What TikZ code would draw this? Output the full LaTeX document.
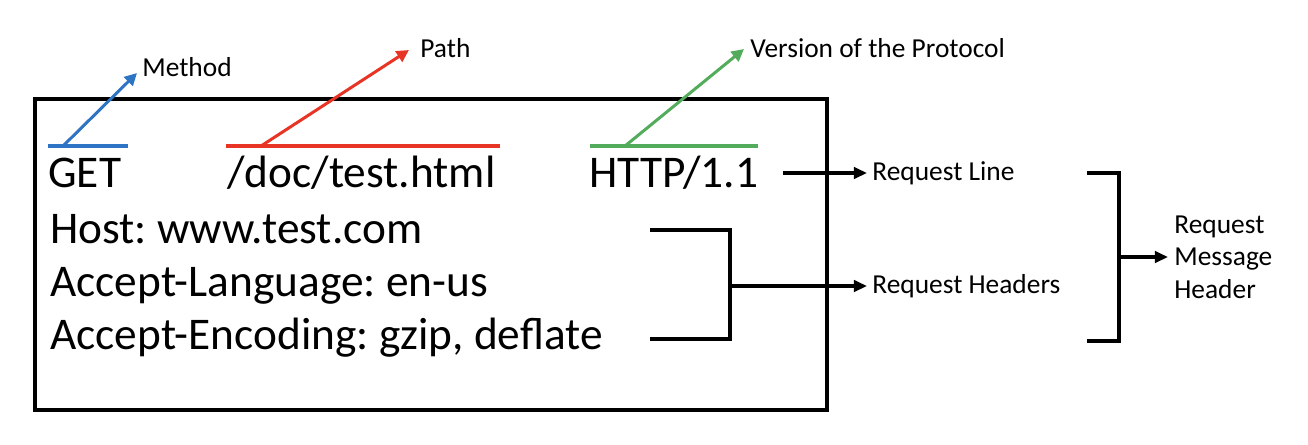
\documentclass[tikz,border=0pt]{standalone}
\usepackage{fontspec}
\setmainfont{Carlito}
\frenchspacing
\usetikzlibrary{arrows.meta}
\definecolor{methodblue}{RGB}{46,116,196}
\definecolor{pathred}{RGB}{232,52,36}
\definecolor{versiongreen}{RGB}{82,172,92}
\tikzset{
  big/.style={anchor=base west, inner sep=0pt, font=\fontsize{25.8}{30}\selectfont},
  small/.style={anchor=base west, inner sep=0pt, font=\fontsize{15.6}{18.5}\selectfont},
  tagline/.style={line width=2.3pt},
  tagarrow/.style={line width=1.7pt, -{Triangle[length=7pt,width=7pt]}},
  bracket/.style={line width=2.1pt},
  outarrow/.style={line width=1.9pt, -{Triangle[length=7.5pt,width=6.5pt]}}
}
\begin{document}
\begin{tikzpicture}[x=0.02cm,y=-0.02cm]
\useasboundingbox (0,0) rectangle (1308,444);
\draw[line width=2.6pt] (35,99) rectangle (827,410);
\node[big] (get) at (48,187) {GET};
\node[big] (path) at (227,187) {/doc/test.html};
\node[big] (version) at (589,187) {HTTP/1.1};
\node[big] (host) at (50,243) {Host: www.test.com};
\node[big] (lang) at (50,296) {Accept-Language: en-us};
\node[big] (enc) at (50,349) {Accept-Encoding: gzip, deflate};
\node[small] (method) at (142,76) {Method};
\node[small] (pathlbl) at (420,57) {Path};
\node[small] (verlbl) at (750,57) {Version of the Protocol};
\node[small] (reqline) at (872,180) {Request Line};
\node[small] (reqhead) at (872,293) {Request Headers};
\node[small, anchor=west, align=left] (msghead) at (1174,257) {Request\\Message\\Header};
\coordinate (getl) at (48,146);
\coordinate (getr) at (128,146);
\coordinate (gets) at (63,146);
\coordinate (gett) at (137,73);
\coordinate (pathl) at (226,146);
\coordinate (pathr) at (500,146);
\coordinate (paths) at (261,146);
\coordinate (patht) at (409,50);
\coordinate (verl) at (590,146);
\coordinate (verr) at (758,146);
\coordinate (vers) at (625,146);
\coordinate (vert) at (744,49);
\draw[tagline, methodblue] (getl) -- (getr);
\draw[tagarrow, methodblue] (gets) -- (gett);
\draw[tagline, pathred] (pathl) -- (pathr);
\draw[tagarrow, pathred] (paths) -- (patht);
\draw[tagline, versiongreen] (verl) -- (verr);
\draw[tagarrow, versiongreen] (vers) -- (vert);
\coordinate (rls) at (783,173);
\coordinate (rlt) at (867,173);
\draw[outarrow] (rls) -- (rlt);
\coordinate (hbtop) at (650,230);
\coordinate (hbbot) at (650,339);
\coordinate (hbmid) at (730,286);
\coordinate (hbt) at (867,286);
\draw[bracket] (hbtop) -| (hbmid) |- (hbbot);
\draw[outarrow] (hbmid) -- (hbt);
\coordinate (mbtop) at (1087,173);
\coordinate (mbbot) at (1087,341);
\coordinate (mbmid) at (1119,257);
\coordinate (mbt) at (1168,257);
\draw[bracket] (mbtop) -| (mbmid) |- (mbbot);
\draw[outarrow] (mbmid) -- (mbt);
\end{tikzpicture}
\end{document}
